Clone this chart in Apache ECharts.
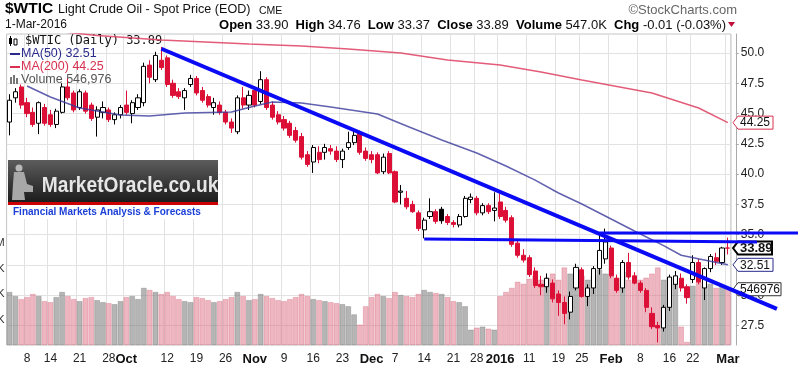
<!DOCTYPE html>
<html>
<head>
<meta charset="utf-8">
<script src="https://cdn.jsdelivr.net/npm/echarts@6/dist/echarts.min.js"></script>
<style>
  html, body { margin: 0; padding: 0; background: #fff; }
  #chart { width: 800px; height: 376px; }
</style>
</head>
<body>
<div id="chart"></div>
<script>
// trading days shown on the chart
const dates = [
  '2015-09-02','2015-09-03','2015-09-04','2015-09-08','2015-09-09','2015-09-10','2015-09-11','2015-09-14','2015-09-15','2015-09-16',
  '2015-09-17','2015-09-18','2015-09-21','2015-09-22','2015-09-23','2015-09-24','2015-09-25','2015-09-28','2015-09-29','2015-09-30',
  '2015-10-01','2015-10-02','2015-10-05','2015-10-06','2015-10-07','2015-10-08','2015-10-09','2015-10-12','2015-10-13','2015-10-14',
  '2015-10-15','2015-10-16','2015-10-19','2015-10-20','2015-10-21','2015-10-22','2015-10-23','2015-10-26','2015-10-27','2015-10-28',
  '2015-10-29','2015-10-30','2015-11-02','2015-11-03','2015-11-04','2015-11-05','2015-11-06','2015-11-09','2015-11-10','2015-11-11',
  '2015-11-12','2015-11-13','2015-11-16','2015-11-17','2015-11-18','2015-11-19','2015-11-20','2015-11-23','2015-11-24','2015-11-25',
  '2015-11-27','2015-11-30','2015-12-01','2015-12-02','2015-12-03','2015-12-04','2015-12-07','2015-12-08','2015-12-09','2015-12-10',
  '2015-12-11','2015-12-14','2015-12-15','2015-12-16','2015-12-17','2015-12-18','2015-12-21','2015-12-22','2015-12-23','2015-12-24',
  '2015-12-28','2015-12-29','2015-12-30','2015-12-31','2016-01-04','2016-01-05','2016-01-06','2016-01-07','2016-01-08','2016-01-11',
  '2016-01-12','2016-01-13','2016-01-14','2016-01-15','2016-01-19','2016-01-20','2016-01-21','2016-01-22','2016-01-25','2016-01-26',
  '2016-01-27','2016-01-28','2016-01-29','2016-02-01','2016-02-02','2016-02-03','2016-02-04','2016-02-05','2016-02-08','2016-02-09',
  '2016-02-10','2016-02-11','2016-02-12','2016-02-16','2016-02-17','2016-02-18','2016-02-19','2016-02-22','2016-02-23','2016-02-24',
  '2016-02-25','2016-02-26','2016-02-29','2016-03-01'
];

const opens = [
  44.3, 46.3, 47.2, 45.9, 45.1, 44.2, 45.5, 44.9, 44.1, 45.1, 47.2, 46.7, 45.5, 46.7, 45.7, 44.7, 45.1, 45.3, 44.5, 44.9,
  45.7, 45.0, 45.5, 45.9, 49.0, 47.8, 49.4, 49.6, 47.5, 46.8, 46.3, 47.4, 47.9, 46.9, 46.4, 45.5, 45.7, 45.1, 44.3, 43.5, 46.3, 45.7,
  46.9, 46.0, 47.8, 45.7, 44.9, 44.5, 44.2, 43.6, 43.1, 41.6, 41.0, 41.8, 41.8, 42.1, 41.9, 41.2, 42.2, 42.6, 43.4, 41.9,
  41.6, 41.6, 40.2, 41.7, 40.2, 38.5, 38.0, 37.5, 36.8, 35.4, 36.5, 36.9, 37.1, 36.5, 36.0, 35.8, 36.5, 37.9, 38.0, 36.8, 37.4, 37.0,
  37.7, 37.0, 36.4, 34.3, 33.3, 33.1, 32.0, 30.9, 30.7, 31.0, 30.1, 29.4, 28.6, 30.6, 32.1, 29.9, 30.6, 32.2, 33.0,
  33.9, 31.4, 30.6, 32.7, 31.6, 31.0, 30.4, 28.5, 27.5, 27.3, 29.0, 30.9, 31.4, 30.7, 31.3, 32.7, 30.6, 32.2, 33.1, 32.7,
  33.90
];
const highs = [
  46.6, 47.1, 47.4, 46.3, 45.5, 46.0, 45.8, 45.3, 45.4, 47.5, 47.9, 46.9, 47.0, 46.9, 45.9, 45.6, 46.0, 45.5, 45.1, 45.7,
  46.9, 46.1, 46.6, 49.2, 49.4, 50.1, 50.5, 49.8, 47.8, 47.1, 47.1, 48.2, 48.1, 47.2, 46.6, 46.3, 46.0, 45.3, 44.6, 46.5, 47.2, 46.9,
  47.1, 48.5, 48.0, 46.0, 45.2, 44.8, 44.4, 43.9, 43.4, 41.9, 42.4, 42.3, 42.5, 42.4, 42.3, 42.1, 43.5, 43.6, 43.6, 42.2,
  41.9, 41.8, 41.7, 41.9, 40.3, 39.1, 38.6, 37.8, 37.0, 36.4, 38.0, 37.1, 37.3, 36.7, 36.2, 36.7, 38.2, 38.4, 38.2, 37.6, 37.6, 38.5,
  38.4, 37.3, 36.6, 34.5, 33.8, 33.3, 32.3, 31.6, 31.8, 31.3, 30.4, 29.9, 30.3, 32.6, 32.3, 30.9, 32.4, 35.1, 35.5,
  34.1, 31.7, 32.9, 33.5, 31.9, 31.2, 30.6, 29.0, 27.8, 29.2, 31.7, 32.0, 31.8, 30.9, 33.3, 33.0, 32.3, 33.4, 33.5, 34.0,
  34.76
];
const lows = [
  43.2, 45.9, 45.4, 44.7, 43.9, 43.3, 44.0, 43.9, 43.8, 45.0, 46.1, 45.1, 45.3, 45.0, 44.4, 43.1, 44.6, 44.3, 44.1, 44.6,
  44.9, 44.2, 45.3, 45.6, 47.5, 47.6, 48.6, 47.2, 46.3, 46.2, 45.3, 47.2, 46.5, 45.9, 45.5, 44.9, 44.9, 44.1, 43.4, 43.3, 45.4, 45.3,
  45.5, 45.8, 45.3, 44.5, 44.1, 43.6, 43.0, 42.6, 41.2, 40.6, 40.1, 40.9, 41.2, 41.6, 41.0, 40.5, 42.0, 42.4, 41.6, 41.1,
  40.9, 40.0, 40.0, 40.0, 37.6, 37.5, 37.1, 36.8, 35.3, 34.7, 36.3, 35.9, 35.9, 35.8, 35.6, 35.6, 36.4, 37.6, 36.6, 36.6, 36.7, 36.1,
  36.3, 36.0, 34.0, 33.1, 32.7, 31.5, 30.6, 30.0, 30.2, 29.4, 28.3, 27.6, 28.0, 30.4, 29.8, 29.1, 30.1, 31.7, 32.6,
  31.4, 30.2, 30.2, 31.3, 30.9, 30.2, 28.6, 27.2, 26.1, 27.0, 28.7, 30.5, 30.3, 29.3, 31.0, 30.9, 29.6, 31.9, 32.5, 32.5,
  33.37
];
const closes = [
  46.1, 46.8, 45.7, 45.0, 44.1, 45.9, 44.2, 44.1, 45.2, 47.2, 46.3, 45.3, 46.8, 45.2, 44.6, 45.3, 45.5, 44.5, 44.9, 45.5,
  45.1, 45.9, 46.3, 48.9, 48.0, 49.8, 48.8, 47.4, 46.5, 46.4, 46.9, 47.9, 46.7, 46.1, 45.7, 45.9, 45.1, 44.3, 43.8, 46.3, 45.7, 46.5,
  45.7, 47.8, 45.5, 44.7, 44.3, 43.8, 43.2, 42.8, 41.4, 40.8, 42.2, 41.2, 42.2, 41.9, 41.2, 41.9, 42.6, 43.2, 41.8, 41.3,
  41.2, 40.1, 41.4, 40.1, 37.7, 38.6, 37.3, 36.9, 35.5, 36.2, 36.9, 36.1, 36.15, 36.0, 35.85, 36.5, 38.0, 38.1, 36.8, 37.4, 36.9, 37.2,
  36.5, 36.2, 34.2, 33.3, 32.9, 31.7, 30.8, 30.7, 31.4, 29.7, 29.4, 28.5, 29.9, 32.3, 29.9, 30.6, 32.2, 33.7, 34.4,
  31.6, 30.4, 32.7, 31.5, 31.0, 30.4, 29.0, 27.4, 27.3, 29.0, 31.5, 31.6, 30.6, 29.8, 32.7, 31.1, 32.2, 33.2, 32.8, 33.90,
  33.89
];
const volumes = [
  520000, 480000, 450000, 470000, 500000, 480000, 430000, 420000, 470000, 520000, 480000, 450000, 430000, 460000, 470000, 440000, 420000, 410000, 400000, 430000,
  470000, 480000, 450000, 560000, 540000, 520000, 500000, 520000, 480000, 450000, 430000, 420000, 470000, 460000, 440000, 420000, 430000, 450000, 470000, 520000, 480000, 440000,
  450000, 500000, 480000, 460000, 440000, 430000, 450000, 470000, 500000, 480000, 450000, 440000, 430000, 420000, 410000, 400000, 380000, 300000, 200000, 380000,
  470000, 500000, 480000, 460000, 520000, 490000, 480000, 470000, 500000, 540000, 520000, 510000, 500000, 470000, 430000, 420000, 380000, 150000, 170000, 180000, 160000, 150000,
  480000, 520000, 560000, 620000, 600000, 650000, 680000, 640000, 660000, 700000, 640000, 760000, 700000, 720000, 680000, 640000, 680000, 740000, 700000,
  700000, 660000, 720000, 640000, 620000, 640000, 660000, 700000, 760000, 640000, 660000, 600000, 180000, 30000, 580000, 620000, 580000, 600000, 560000, 580000,
  546976
];

// moving averages (date, value)
const ma50 = [
  ['2015-09-08', 47.28], ['2015-09-14', 46.37], ['2015-09-21', 45.46], ['2015-09-25', 45.13], ['2015-09-30', 44.88],
  ['2015-10-07', 44.80], ['2015-10-15', 45.05], ['2015-10-27', 45.13], ['2015-11-02', 45.62], ['2015-11-05', 45.95],
  ['2015-11-12', 45.87], ['2015-11-19', 45.54], ['2015-12-02', 44.96], ['2015-12-09', 43.97], ['2015-12-17', 42.82],
  ['2015-12-28', 41.74], ['2016-01-05', 40.67], ['2016-01-12', 39.51], ['2016-01-19', 38.44], ['2016-01-25', 37.53],
  ['2016-01-29', 36.54], ['2016-02-05', 35.30], ['2016-02-12', 34.10], ['2016-02-18', 33.30], ['2016-02-25', 32.80],
  ['2016-03-01', 32.51]
];
const ma200 = [
  ['2015-09-02', 52.20], ['2015-09-14', 51.85], ['2015-09-24', 51.45], ['2015-10-09', 51.07], ['2015-10-30', 50.74],
  ['2015-11-12', 50.58], ['2015-11-24', 50.33], ['2015-12-08', 50.00], ['2015-12-18', 49.42], ['2016-01-04', 49.01],
  ['2016-01-13', 48.43], ['2016-01-25', 47.77], ['2016-02-10', 46.70], ['2016-02-23', 45.46], ['2016-03-01', 44.25]
];

// date axis labels
const tickDates = ['2015-09-08','2015-09-14','2015-09-21','2015-09-28','2015-10-01','2015-10-12','2015-10-19','2015-10-26',
  '2015-11-02','2015-11-09','2015-11-16','2015-11-23','2015-12-01','2015-12-07','2015-12-14','2015-12-21','2015-12-28',
  '2016-01-04','2016-01-11','2016-01-19','2016-01-25','2016-02-01','2016-02-08','2016-02-16','2016-02-22','2016-03-01'];
const tickLabels = ['8','14','21','28','Oct','12','19','26','Nov','9','16','23','Dec','7','14','21','28',
  '2016','11','19','25','Feb','8','16','22','Mar'];
const priceTicks = [27.5, 30, 32.5, 35, 37.5, 40, 42.5, 45, 47.5, 50];
const volumeTicks = [250000, 500000, 750000, 1000000];

// hand-drawn trend lines: [start date, start price, end date, end price, days extended past the end]
const trendLines = [
  ['2015-10-09', 50.35, '2016-03-01', 30.58, 8.4],
  ['2015-12-14', 34.64, '2016-03-01', 34.41, 5],
  ['2016-01-28', 35.14, '2016-03-01', 35.14, 12]
];

const RED = '#dc1037';
const FONT = '"Liberation Sans", Arial, sans-serif';

const labelMap = {};
tickDates.forEach((d, i) => { labelMap[d] = tickLabels[i]; });

const candleData = dates.map((d, i) => {
  const o = opens[i], c = closes[i];
  const prev = i > 0 ? closes[i - 1] : o;
  const edge = c < prev ? RED : '#000';
  const fill = c > o ? '#fff' : edge;
  return {
    value: [o, c, lows[i], highs[i]],
    itemStyle: { color: fill, color0: fill, borderColor: edge, borderColor0: edge }
  };
});

const volumeData = volumes.map((v, i) => {
  const down = i > 0 && closes[i] < closes[i - 1];
  return {
    value: v,
    itemStyle: {
      color: down ? 'rgba(222,110,130,0.5)' : 'rgba(128,128,128,0.58)',
      borderColor: down ? 'rgba(205,80,100,0.45)' : 'rgba(100,100,100,0.5)',
      borderWidth: 0.6
    }
  };
});

const chart = echarts.init(document.getElementById('chart'));

chart.setOption({
  animation: false,
  backgroundColor: '#fff',
  grid: {
    left: 6.6, right: 69.2, top: 34, height: 311,
    outerBoundsMode: 'none', containLabel: false,
    show: true, borderColor: '#c4c4c4', borderWidth: 1
  },
  xAxis: {
    type: 'category',
    data: dates,
    boundaryGap: true,
    axisLine: { show: false },
    axisTick: { show: false },
    axisLabel: {
      interval: (idx, v) => labelMap[v] !== undefined,
      margin: 8,
      formatter: v => {
        const l = labelMap[v];
        return isNaN(+l) || l === '2016' ? '{m|' + l + '}' : '{d|' + l + '}';
      },
      rich: {
        d: { fontFamily: FONT, fontSize: 12, color: '#222' },
        m: { fontFamily: FONT, fontSize: 13, fontWeight: 'bold', color: '#111' }
      }
    },
    splitLine: { show: true, interval: (idx, v) => labelMap[v] !== undefined, lineStyle: { color: '#e2e2e2', width: 1 } }
  },
  yAxis: [
    {
      type: 'value',
      position: 'right',
      offset: 5,
      min: 25.89,
      max: 51.57,
      axisLine: { show: true, lineStyle: { color: '#aaa' } },
      axisTick: { show: true, customValues: priceTicks, length: 3, lineStyle: { color: '#aaa' } },
      axisLabel: {
        customValues: priceTicks, margin: 5,
        formatter: v => v.toFixed(1),
        fontFamily: FONT, fontSize: 12, color: '#222'
      },
      splitLine: { show: true, lineStyle: { color: '#e2e2e2', width: 1 } }
    },
    {
      type: 'value',
      position: 'left',
      min: 0,
      max: 3050000,
      axisLine: { show: false },
      axisTick: { show: false, customValues: volumeTicks },
      axisLabel: {
        customValues: volumeTicks, margin: 2,
        formatter: v => v >= 1000000 ? (v / 1000000) + 'M' : (v / 1000) + 'K',
        fontFamily: FONT, fontSize: 11, color: '#333'
      },
      splitLine: { show: false }
    }
  ],
  series: [
    {
      name: 'Volume', type: 'bar', yAxisIndex: 1, data: volumeData,
      barCategoryGap: '6%', z: 1, silent: true
    },
    {
      name: '$WTIC', type: 'candlestick', yAxisIndex: 0, data: candleData,
      barWidth: 4.6, z: 3, itemStyle: { borderWidth: 1 }
    },
    {
      name: 'MA(50)', type: 'line', yAxisIndex: 0, data: ma50, symbol: 'none', z: 4,
      lineStyle: { color: '#3a3a9c', width: 1.5, opacity: 0.8 }
    },
    {
      name: 'MA(200)', type: 'line', yAxisIndex: 0, data: ma200, symbol: 'none', z: 4,
      lineStyle: { color: '#e04a6a', width: 1.5, opacity: 0.9 }
    }
  ]
});

// pixel helpers (category axis is linear in index, so extend past the last day)
const n = dates.length;
const xFirst = chart.convertToPixel({ xAxisIndex: 0 }, dates[0]);
const xLast = chart.convertToPixel({ xAxisIndex: 0 }, dates[n - 1]);
const xAt = idx => xFirst + (xLast - xFirst) * idx / (n - 1);
const yAt = (v, axis) => chart.convertToPixel({ yAxisIndex: axis || 0 }, v);

const graphics = [];

// header
graphics.push(
  { type: 'text', x: 5, y: 9, style: { text: '$WTIC', fontFamily: FONT, fontSize: 15.5, fontWeight: 'bold', fill: '#000', verticalAlign: 'middle' } },
  { type: 'text', x: 58, y: 10, style: { text: 'Light Crude Oil - Spot Price (EOD)', fontFamily: FONT, fontSize: 12.6, fill: '#111', verticalAlign: 'middle' } },
  { type: 'text', x: 259, y: 11, style: { text: 'CME', fontFamily: FONT, fontSize: 10.5, fill: '#111', verticalAlign: 'middle' } },
  { type: 'text', x: 737, y: 10, style: { text: '\u00a9StockCharts.com', fontFamily: FONT, fontSize: 13, fill: '#666', align: 'right', verticalAlign: 'middle' } },
  { type: 'text', x: 5, y: 25, style: { text: '1-Mar-2016', fontFamily: FONT, fontSize: 12, fill: '#111', verticalAlign: 'middle' } },
  {
    type: 'text', x: 726, y: 25,
    style: {
      text: '{b|Open} 33.90  {b|High} 34.76  {b|Low} 33.37  {b|Close} 33.89  {b|Volume} 547.0K  {b|Chg} -0.01 (-0.03%)',
      fontFamily: FONT, fontSize: 13, fill: '#111', align: 'right', verticalAlign: 'middle',
      rich: { b: { fontFamily: FONT, fontSize: 13, fontWeight: 'bold', fill: '#000' } }
    }
  },
  { type: 'polygon', shape: { points: [[728, 22], [735, 22], [731.5, 27]] }, style: { fill: '#c0103a' } }
);

// legend inside the plot
graphics.push(
  { type: 'rect', shape: { x: 9, y: 38, width: 3, height: 6 }, style: { fill: '#000' } },
  { type: 'line', shape: { x1: 10.5, y1: 36, x2: 10.5, y2: 46 }, style: { stroke: '#000', lineWidth: 1 } },
  { type: 'rect', shape: { x: 14, y: 39, width: 3, height: 6 }, style: { fill: '#fff', stroke: '#000', lineWidth: 1 } },
  { type: 'text', x: 25, y: 41, style: { text: '$WTIC (Daily) 33.89', fontFamily: '"DejaVu Sans Mono", monospace', fontSize: 12, fill: '#111', verticalAlign: 'middle' } },
  { type: 'line', shape: { x1: 10, y1: 54, x2: 20, y2: 54 }, style: { stroke: '#2a2a8c', lineWidth: 2 } },
  { type: 'text', x: 21, y: 54, style: { text: 'MA(50) 32.51', fontFamily: FONT, fontSize: 12.5, fill: '#2a2a8c', verticalAlign: 'middle' } },
  { type: 'line', shape: { x1: 10, y1: 67, x2: 20, y2: 67 }, style: { stroke: '#d8304e', lineWidth: 2 } },
  { type: 'text', x: 21, y: 67, style: { text: 'MA(200) 44.25', fontFamily: FONT, fontSize: 12.5, fill: '#d8304e', verticalAlign: 'middle' } },
  { type: 'rect', shape: { x: 10, y: 77, width: 2, height: 7 }, style: { fill: '#777' } },
  { type: 'rect', shape: { x: 13, y: 75, width: 2, height: 9 }, style: { fill: '#777' } },
  { type: 'rect', shape: { x: 16, y: 78, width: 2, height: 6 }, style: { fill: '#777' } },
  { type: 'text', x: 21, y: 80, style: { text: 'Volume 546,976', fontFamily: FONT, fontSize: 12.5, fill: '#555', verticalAlign: 'middle' } }
);

// MarketOracle logo
graphics.push({
  type: 'group', z: 60,
  children: [
    { type: 'rect', shape: { x: 8, y: 160, width: 210, height: 42 },
      style: { fill: new echarts.graphic.LinearGradient(0, 0, 0, 1, [{ offset: 0, color: '#5c5c5c' }, { offset: 1, color: '#1c1c1c' }]) } },
    { type: 'circle', shape: { cx: 19, cy: 168, r: 3.5 }, style: { fill: '#b8b8b8' } },
    { type: 'polygon', shape: { points: [[14, 172], [24, 172], [27, 184], [33, 186], [33, 192], [24, 192], [25, 200], [12, 200], [13, 184]] }, style: { fill: '#a8a8a8' } },
    { type: 'text', x: 37, y: 186, scaleX: 0.87, originX: 37,
      style: { text: 'MarketOracle.co.uk', fontFamily: FONT, fontSize: 22, fontWeight: 'bold', fill: '#e6e6e6', verticalAlign: 'middle' } },
    { type: 'rect', shape: { x: 8, y: 202, width: 210, height: 3 }, style: { fill: '#cc0000' } },
    { type: 'rect', shape: { x: 8, y: 205, width: 210, height: 14 }, style: { fill: '#fff' } },
    { type: 'text', x: 13, y: 212, style: { text: 'Financial Markets Analysis & Forecasts', fontFamily: FONT, fontSize: 10, fontWeight: 'bold', fill: '#1b3fd8', verticalAlign: 'middle' } }
  ]
});

// value tags on the right axis (own layer so they cover the axis labels)
function tag(y, text, color, bold, w) {
  const x = 733, h = 13;
  return [
    { type: 'polygon', zlevel: 2, z: 10,
      shape: { points: [[x, y], [x + 5, y - h / 2], [x + 5 + w, y - h / 2], [x + 5 + w, y + h / 2], [x + 5, y + h / 2]] },
      style: { fill: '#ffffff', stroke: color, lineWidth: bold ? 2 : 1 } },
    { type: 'text', zlevel: 2, z: 11, x: x + 7, y: y + 0.5,
      style: { text, fontFamily: FONT, fontSize: bold ? 13 : 12, fontWeight: bold ? 'bold' : 'normal', fill: '#111', verticalAlign: 'middle' } }
  ];
}
graphics.push(
  ...tag(yAt(ma200[ma200.length - 1][1]), ma200[ma200.length - 1][1].toFixed(2), '#d8304e', false, 35),
  ...tag(yAt(closes[n - 1]), closes[n - 1].toFixed(2), '#000', true, 34),
  ...tag(yAt(ma50[ma50.length - 1][1]), ma50[ma50.length - 1][1].toFixed(2), '#2a2a8c', false, 35),
  ...tag(yAt(volumes[n - 1], 1), String(volumes[n - 1]), '#333', false, 43)
);

// trend lines
trendLines.forEach((t, k) => {
  const i1 = dates.indexOf(t[0]), i2 = dates.indexOf(t[2]);
  const x1 = xAt(i1), y1 = yAt(t[1]);
  const x2 = xAt(i2), y2 = yAt(t[3]);
  const xe = xAt(i2 + t[4]);
  const ye = y1 + (y2 - y1) * (xe - x1) / (x2 - x1);
  graphics.push({
    type: 'line', zlevel: 2, z: 20,
    shape: { x1, y1, x2: xe, y2: ye },
    style: { stroke: '#0a0af5', lineWidth: k === 0 ? 4 : 3 }
  });
});

chart.setOption({ graphic: graphics });
</script>
</body>
</html>
